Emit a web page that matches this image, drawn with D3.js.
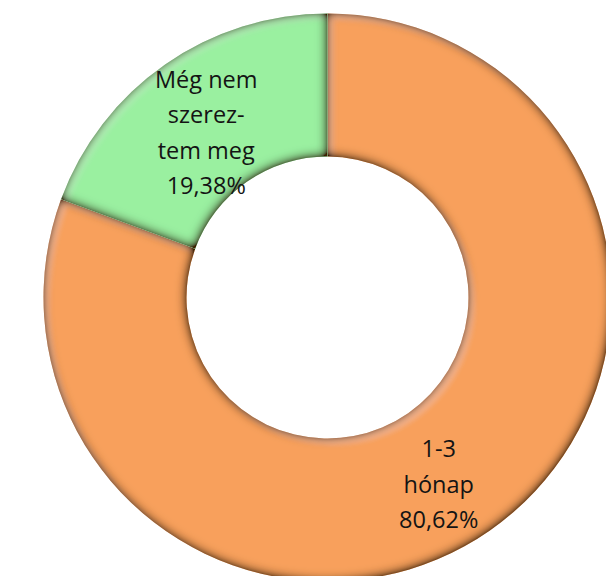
<!DOCTYPE html>
<html>
<head>
<meta charset="utf-8">
<script src="https://cdn.jsdelivr.net/npm/d3@7"></script>
<style>
  html, body { margin: 0; padding: 0; background: #fff; }
  svg { display: block; }
</style>
</head>
<body>
<svg id="chart"></svg>
<script>
const categories = ["1-3 hónap", "Még nem szereztem meg"];
const values = [80.62, 19.38];
const labelLines = [["1-3", "hónap", "80,62%"], ["Még nem", "szerez-", "tem meg", "19,38%"]];
const colors = ["#f8a05b", "#9af0a0"];

const width = 606;
const height = 576;
const cx = 327.5;
const cy = 297.5;
const outerR = 284;
const innerR = 141;
const lineH = 35.5;
// small hand nudge of each label box off the slice centroid
const labelNudge = [[-10, 13], [0, 9]];

const svg = d3.select("#chart")
    .attr("width", width)
    .attr("height", height);

// bevel-ish inner shadow, roughly like the office "circle" bevel
// all edges darkened, a bit more on the lower-right ones
const defs = svg.append("defs");
const f = defs.append("filter")
    .attr("id", "bevel")
    .attr("x", "-10%").attr("y", "-10%")
    .attr("width", "120%").attr("height", "120%");
f.append("feFlood").attr("flood-color", "#3d2206").attr("result", "c");
f.append("feComposite").attr("in", "c").attr("in2", "SourceAlpha")
    .attr("operator", "out").attr("result", "inv");
f.append("feGaussianBlur").attr("in", "inv").attr("stdDeviation", 5.5).attr("result", "invb");
f.append("feOffset").attr("in", "invb").attr("dx", -1.2).attr("dy", -1.2).attr("result", "invo");
f.append("feComposite").attr("in", "invo").attr("in2", "SourceAlpha")
    .attr("operator", "in").attr("result", "shadow0");
const ct = f.append("feComponentTransfer").attr("in", "shadow0").attr("result", "shadow");
ct.append("feFuncA").attr("type", "linear").attr("slope", 1.5);
f.append("feFlood").attr("flood-color", "#ffffff").attr("flood-opacity", 0.18).attr("result", "w");
f.append("feComposite").attr("in", "w").attr("in2", "SourceAlpha")
    .attr("operator", "out").attr("result", "winv");
f.append("feGaussianBlur").attr("in", "winv").attr("stdDeviation", 2.5).attr("result", "winvb");
f.append("feOffset").attr("in", "winvb").attr("dx", 6).attr("dy", 6).attr("result", "winvo");
f.append("feComposite").attr("in", "winvo").attr("in2", "SourceAlpha")
    .attr("operator", "in").attr("result", "hl");
const merge = f.append("feMerge");
merge.append("feMergeNode").attr("in", "SourceGraphic");
merge.append("feMergeNode").attr("in", "hl");
merge.append("feMergeNode").attr("in", "shadow");

const data = categories.map((c, i) => ({ name: c, value: values[i], lines: labelLines[i], color: colors[i], nudge: labelNudge[i] }));

const pie = d3.pie()
    .sort(null)
    .value((d) => d.value);

const arc = d3.arc()
    .innerRadius(innerR)
    .outerRadius(outerR);

const labelArc = d3.arc()
    .innerRadius(212)
    .outerRadius(212);

const g = svg.append("g")
    .attr("transform", `translate(${ cx },${ cy })`);

const slices = pie(data);

g.selectAll(".slice")
    .data(slices)
  .enter().append("path")
    .attr("class", "slice")
    .attr("d", arc)
    .attr("fill", (d) => d.data.color)
    .attr("filter", "url(#bevel)");

const labels = g.selectAll(".label")
    .data(slices)
  .enter().append("text")
    .attr("class", "label")
    .attr("transform", (d) => {
      const c = labelArc.centroid(d);
      return `translate(${ c[0] + d.data.nudge[0] },${ c[1] + d.data.nudge[1] })`;
    })
    .attr("text-anchor", "middle")
    .style("font-family", "'Open Sans', 'Noto Sans', sans-serif")
    .style("font-size", "23.5px")
    .attr("fill", "#141414");

labels.each(function(d) {
  const n = d.data.lines.length;
  d3.select(this).selectAll("tspan")
      .data(d.data.lines)
    .enter().append("tspan")
      .attr("x", 0)
      .attr("y", (t, i) => (i - (n - 1) / 2) * lineH)
      .attr("dy", "0.35em")
      .text((t) => t);
});
</script>
</body>
</html>
